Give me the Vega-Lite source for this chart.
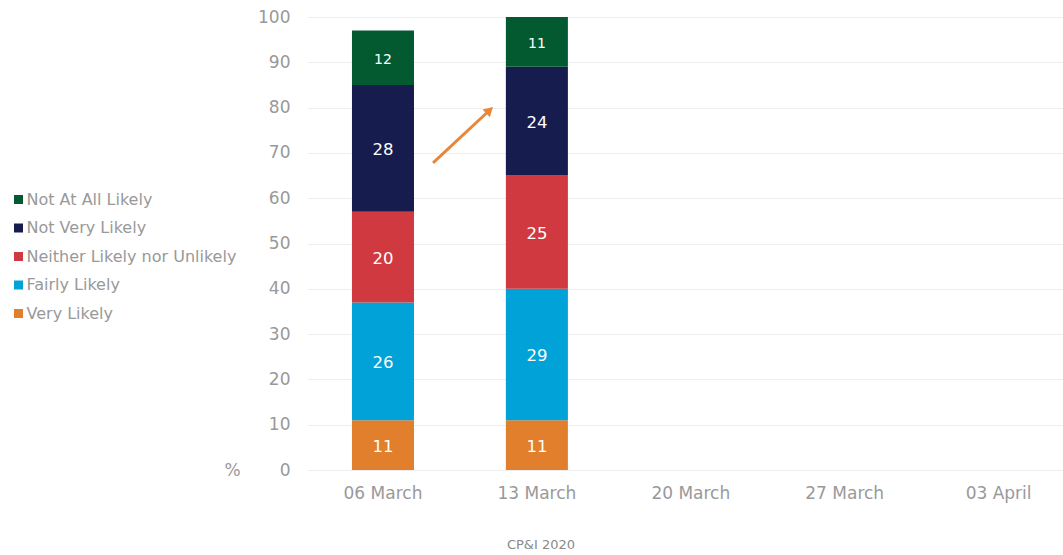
{
  "$schema": "https://vega.github.io/schema/vega-lite/v6.json",
  "autosize": {"type": "none"},
  "padding": {"left": 307, "top": 17, "right": 0, "bottom": 85},
  "width": 756,
  "height": 453,
  "background": "white",
  "title": {"text": "CP&I 2020", "orient": "bottom", "anchor": "middle", "dx": -144, "offset": 38, "fontSize": 13, "fontWeight": "normal", "color": "#8a8a8a", "font": "DejaVu Sans"},
  "datasets": {
    "bars": [
      {"date": "06 March", "cat": "Very Likely", "rank": 1, "pct": 11},
      {"date": "06 March", "cat": "Fairly Likely", "rank": 2, "pct": 26},
      {"date": "06 March", "cat": "Neither Likely nor Unlikely", "rank": 3, "pct": 20},
      {"date": "06 March", "cat": "Not Very Likely", "rank": 4, "pct": 28},
      {"date": "06 March", "cat": "Not At All Likely", "rank": 5, "pct": 12},
      {"date": "13 March", "cat": "Very Likely", "rank": 1, "pct": 11},
      {"date": "13 March", "cat": "Fairly Likely", "rank": 2, "pct": 29},
      {"date": "13 March", "cat": "Neither Likely nor Unlikely", "rank": 3, "pct": 25},
      {"date": "13 March", "cat": "Not Very Likely", "rank": 4, "pct": 24},
      {"date": "13 March", "cat": "Not At All Likely", "rank": 5, "pct": 11}
    ],
    "arrow": [
      {"x0": 0.325, "y0": 67.8, "x1": 0.685, "y1": 79.2}
    ]
  },
  "layer": [
    {
      "data": {"name": "bars"},
      "encoding": {
        "x": {
          "field": "date", "type": "nominal",
          "scale": {"domain": ["06 March", "13 March", "20 March", "27 March", "03 April"], "paddingInner": 0.597, "paddingOuter": 0.2545, "align": 0.574},
          "axis": {"title": null, "labelAngle": 0, "domain": false, "ticks": false, "labelPadding": 15, "labelFontSize": 17, "labelColor": "#999999", "labelFont": "DejaVu Sans"}
        },
        "y": {
          "field": "pct", "type": "quantitative", "stack": "zero",
          "scale": {"domain": [0, 100], "nice": false},
          "axis": {"title": "%", "titleAngle": 0, "titleX": -75, "titleY": 453, "titleBaseline": "middle", "titleAlign": "center", "titleFontSize": 17, "titleFontWeight": "normal", "titleColor": "#999999", "titleFont": "DejaVu Sans",
                   "values": [0, 10, 20, 30, 40, 50, 60, 70, 80, 90, 100], "domain": false, "ticks": false, "labelPadding": 17, "labelFontSize": 17, "labelColor": "#999999", "labelFont": "DejaVu Sans", "gridColor": "#eeeeee", "gridWidth": 1}
        },
        "order": {"field": "rank", "type": "quantitative", "sort": "ascending"}
      },
      "layer": [
        {
          "mark": {"type": "bar"},
          "encoding": {
            "color": {
              "field": "cat", "type": "nominal",
              "scale": {"domain": ["Not At All Likely", "Not Very Likely", "Neither Likely nor Unlikely", "Fairly Likely", "Very Likely"],
                        "range": ["#045A30", "#171C4E", "#D0393F", "#00A2D8", "#E17F2C"]},
              "legend": {"title": null, "orient": "none", "legendX": -296.5, "legendY": 174.5, "symbolType": "square", "symbolSize": 81, "symbolStrokeWidth": 0, "labelFontSize": 16, "labelColor": "#999999", "labelFont": "DejaVu Sans", "labelOffset": 0, "rowPadding": 12.5, "labelLimit": 300}
            }
          }
        },
        {
          "mark": {"type": "text", "color": "white", "font": "DejaVu Sans", "baseline": "middle", "align": "center", "dy": 2},
          "encoding": {
            "y": {"field": "pct", "type": "quantitative", "stack": "zero", "bandPosition": 0.5},
            "text": {"field": "pct", "type": "quantitative"},
            "size": {"condition": {"test": "datum.cat === 'Not At All Likely'", "value": 14}, "value": 16.5}
          }
        }
      ]
    },
    {
      "data": {"name": "arrow"},
      "encoding": {
        "x": {"field": "x0", "type": "quantitative", "scale": {"domain": [-0.494, 4.418], "nice": false, "zero": false}, "axis": null},
        "y": {"field": "y0", "type": "quantitative"}
      },
      "layer": [
        {
          "mark": {"type": "rule", "color": "#E8873A", "strokeWidth": 3},
          "encoding": {
            "x2": {"field": "x1"},
            "y2": {"field": "y1"}
          }
        },
        {
          "mark": {"type": "point", "shape": "triangle", "filled": true, "color": "#E8873A", "angle": 47, "size": 115, "opacity": 1},
          "encoding": {
            "x": {"field": "x1", "type": "quantitative"},
            "y": {"field": "y1", "type": "quantitative"}
          }
        }
      ]
    }
  ],
  "resolve": {"scale": {"x": "independent"}, "axis": {"x": "independent"}},
  "config": {"view": {"stroke": null}, "font": "DejaVu Sans"}
}
